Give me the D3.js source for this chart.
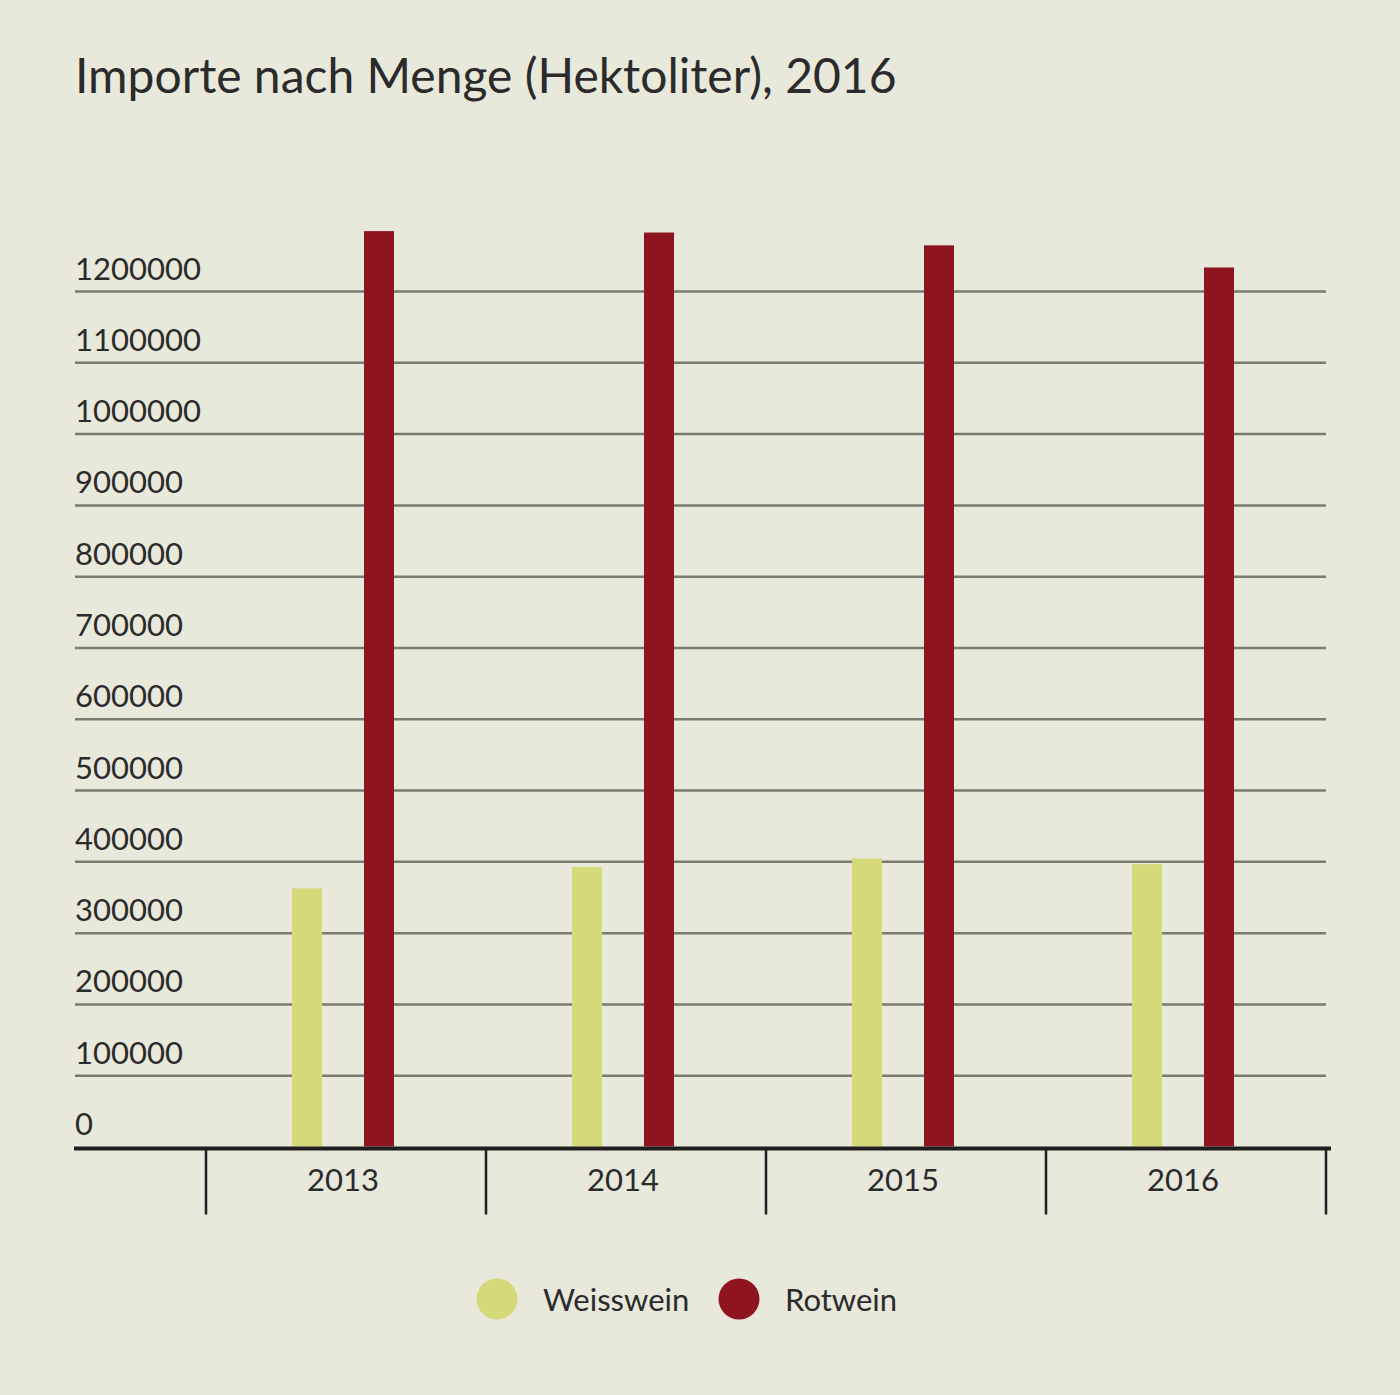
<!DOCTYPE html>
<html>
<head>
<meta charset="utf-8">
<script src="https://cdn.jsdelivr.net/npm/d3@7"></script>
<style>
  body { margin: 0; background: #e8e8db; }
  svg { display: block; font-family: Lato, "Noto Sans", sans-serif; }
</style>
</head>
<body>
<div id="container"></div>
<script>
/* DATA */
const years = ["2013", "2014", "2015", "2016"];
const seriesNames = ["Weisswein", "Rotwein"];
const weisswein = [362000, 392000, 404000, 396000];
const rotwein = [1284000, 1282000, 1264000, 1233000];
const yTicks = [0, 100000, 200000, 300000, 400000, 500000, 600000,
  700000, 800000, 900000, 1000000, 1100000, 1200000];
const colors = { Weisswein: "#d4d97a", Rotwein: "#8e141f" };

/* CONSTANTS */
const width = 1400, height = 1395;
const margin = { left: 75, right: 74, top: 291, bottom: 249 };
const textColor = "#2b2b2b";

const svg = d3.select("#container")
  .append("svg")
  .attr("width", width)
  .attr("height", height);

svg.append("rect")
  .attr("width", width)
  .attr("height", height)
  .attr("fill", "#e8e8db");

// title
svg.append("text")
  .attr("x", 75)
  .attr("y", 93)
  .attr("fill", textColor)
  .attr("font-size", 48)
  .text("Importe nach Menge (Hektoliter), 2016");

// SCALES
const yScale = d3.scaleLinear()
  .domain([0, 1200000])
  .range([1146.5, 291]);

const xScale = d3.scaleBand()
  .domain(years)
  .range([206, 1326])
  .padding(0);

const innerScale = d3.scaleBand()
  .domain(seriesNames)
  .range([86, 188])
  .paddingInner(0.5833)
  .paddingOuter(0);

// Y AXIS with gridlines
const yAxis = d3.axisLeft(yScale)
  .tickValues(yTicks)
  .tickSize(-(1326 - margin.left))
  .tickFormat(d3.format("d"));

const yAxisGroup = svg.append("g")
  .attr("transform", `translate(${margin.left},0)`)
  .call(yAxis);

yAxisGroup.select(".domain").remove();
yAxisGroup.selectAll(".tick line")
  .attr("stroke", "#7b7b72")
  .attr("stroke-width", 2.5)
  .attr("opacity", d => d === 0 ? 0 : 1);
yAxisGroup.selectAll(".tick text")
  .attr("x", 0)
  .attr("dy", -12)
  .attr("text-anchor", "start")
  .attr("fill", textColor)
  .attr("font-size", 31)
  .attr("font-family", "Lato, 'Noto Sans', sans-serif");

// BARS
const rows = years.map((y, i) => ({ year: y, Weisswein: weisswein[i], Rotwein: rotwein[i] }));

svg.append("g")
  .selectAll("g")
  .data(rows)
  .join("g")
  .attr("transform", d => `translate(${xScale(d.year)},0)`)
  .selectAll("rect")
  .data(d => seriesNames.map(s => ({ key: s, value: d[s] })))
  .join("rect")
  .attr("x", d => innerScale(d.key))
  .attr("width", innerScale.bandwidth())
  .attr("y", d => yScale(d.value))
  .attr("height", d => yScale(0) - yScale(d.value))
  .attr("fill", d => colors[d.key]);

// X AXIS
const xAxis = d3.axisBottom(xScale).tickSize(0);
const xAxisGroup = svg.append("g")
  .attr("transform", `translate(0,${yScale(0)})`)
  .call(xAxis);

xAxisGroup.select(".domain").remove();
xAxisGroup.selectAll(".tick text")
  .attr("y", 44)
  .attr("dy", 0)
  .attr("x", -3)
  .attr("fill", textColor)
  .attr("font-size", 31)
  .attr("font-family", "Lato, 'Noto Sans', sans-serif");

// baseline
xAxisGroup.append("line")
  .attr("x1", 74)
  .attr("x2", 1331)
  .attr("y1", 2)
  .attr("y2", 2)
  .attr("stroke", "#1f1f1f")
  .attr("stroke-width", 4);

// band separators
const bounds = years.map(y => xScale(y)).concat([xScale.range()[1]]);
xAxisGroup.selectAll(".sep")
  .data(bounds)
  .join("line")
  .attr("class", "sep")
  .attr("x1", d => d)
  .attr("x2", d => d)
  .attr("y1", 2)
  .attr("y2", 68)
  .attr("stroke", "#1f1f1f")
  .attr("stroke-width", 2.5);

// LEGEND
const legendX = [497, 739];
const legend = svg.append("g")
  .selectAll("g")
  .data(seriesNames)
  .join("g")
  .attr("transform", (d, i) => `translate(${legendX[i]},1299)`);

legend.append("circle")
  .attr("r", 20.5)
  .attr("fill", d => colors[d]);

legend.append("text")
  .attr("x", 46)
  .attr("y", 12)
  .attr("fill", textColor)
  .attr("font-size", 31)
  .text(d => d);
</script>
</body>
</html>
